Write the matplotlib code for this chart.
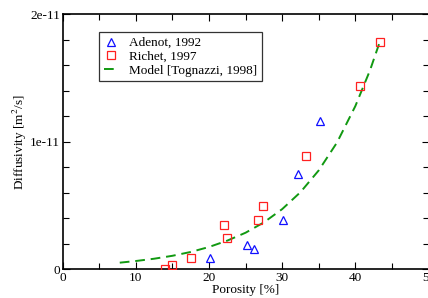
import matplotlib
matplotlib.use("Agg")
import matplotlib.pyplot as plt
from matplotlib.ticker import MultipleLocator, FixedLocator, FixedFormatter

plt.rcParams['font.family'] = ['Liberation Serif', 'DejaVu Serif']
plt.rcParams['mathtext.fontset'] = 'stix'

# Adenot, 1992 (porosity %, diffusivity m2/s)
adenot_x = [20.1, 25.2, 26.1, 30.1, 32.1, 35.2]
adenot_y = [0.89e-12, 1.91e-12, 1.6e-12, 3.83e-12, 7.5e-12, 11.6e-12]

# Richet, 1997
richet_x = [13.95, 15.0, 17.6, 22.0, 22.45, 26.7, 27.4, 33.2, 40.7, 43.4]
richet_y = [0.05e-12, 0.34e-12, 0.87e-12, 3.49e-12, 2.44e-12, 3.83e-12, 5.0e-12, 8.87e-12, 14.4e-12, 17.84e-12]

# Model [Tognazzi, 1998]
model_x = [7.8, 10, 12.5, 15, 17.5, 20, 22.5, 25, 27.5, 30, 32.5, 35, 37.5, 40, 42, 43.5]
model_y = [0.52e-12, 0.65e-12, 0.83e-12, 1.06e-12, 1.36e-12, 1.75e-12, 2.25e-12, 2.87e-12,
           3.68e-12, 4.72e-12, 6.05e-12, 7.76e-12, 9.95e-12, 12.8e-12, 15.6e-12, 18.1e-12]

x_ticks = [0, 10, 20, 30, 40, 50]
y_ticks = [0, 1e-11, 2e-11]
y_tick_labels = ['0', '1e-11', '2e-11']

FS = 9.5
fig = plt.figure(figsize=(4.28, 2.98), dpi=100)
W, H = 428, 298
ax = fig.add_axes([62.7 / W, 1 - 269.3 / H, (428.5 - 62.7) / W, (269.3 - 14.3) / H])

ax.plot(model_x, model_y, color='#119911', lw=1.4, ls=(0, (5, 3)),
        label='Model [Tognazzi, 1998]', zorder=2)
ax.plot(adenot_x, adenot_y, ls='none', marker='^', ms=6, mfc='none', mec='#1010ff',
        mew=0.9, label='Adenot, 1992', zorder=3)
ax.plot(richet_x, richet_y, ls='none', marker='s', ms=5.2, mfc='none', mec='#ff2020',
        mew=0.9, label='Richet, 1997', zorder=3)

ax.set_xlim(0, 50)
ax.set_ylim(0, 2e-11)
ax.xaxis.set_major_locator(FixedLocator(x_ticks))
ax.xaxis.set_minor_locator(MultipleLocator(5))
ax.yaxis.set_major_locator(FixedLocator(y_ticks))
ax.yaxis.set_major_formatter(FixedFormatter(y_tick_labels))
ax.yaxis.set_minor_locator(MultipleLocator(0.2e-11))
ax.tick_params(which='both', direction='in', top=True, right=True, labelsize=FS, width=0.8)
ax.tick_params(which='major', length=5)
ax.tick_params(which='minor', length=4)
ax.tick_params(axis='x', pad=2)
ax.tick_params(axis='y', pad=2)
for s in ax.spines.values():
    s.set_linewidth(1.2)

ax.set_xlabel('Porosity [%]', fontsize=FS, labelpad=0)
ax.set_ylabel('Diffusivity [m$^2$/s]', fontsize=FS, labelpad=1)

handles, labels = ax.get_legend_handles_labels()
order = [1, 2, 0]
leg = ax.legend([handles[i] for i in order], [labels[i] for i in order],
                loc='upper left', bbox_to_anchor=((99.3 - 62.7) / (428.5 - 62.7), (269.3 - 32.3) / (269.3 - 14.3)),
                fontsize=FS, frameon=True, fancybox=False, edgecolor='black',
                handlelength=1.1, handletextpad=0.8, borderpad=0.35, labelspacing=0.12,
                borderaxespad=0, markerscale=1.0)
leg.get_frame().set_linewidth(0.9)

fig.savefig('out.png', dpi=100)
